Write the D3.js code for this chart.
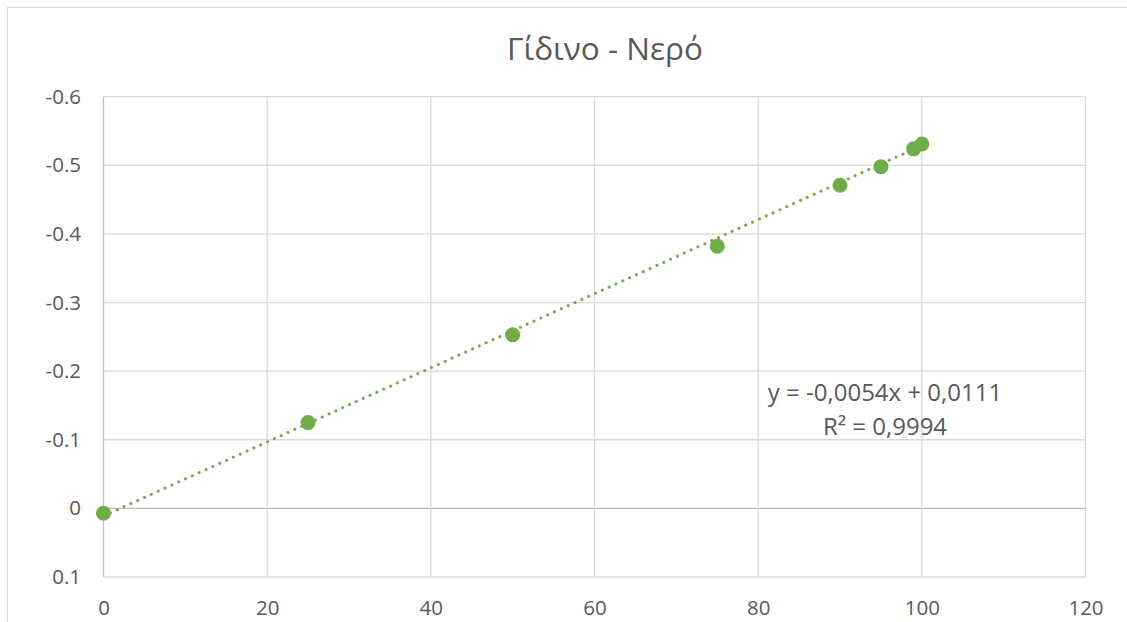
<!DOCTYPE html>
<html>
<head>
<meta charset="utf-8">
<script src="https://cdn.jsdelivr.net/npm/d3@7"></script>
<style>
body { margin: 0; background: #fff; }
text { font-family: "Open Sans", sans-serif; fill: #595959; }
</style>
</head>
<body>
<svg width="1127" height="622"></svg>
<script>
/*
Data
*/
const xValues = [0, 25, 50, 75, 90, 95, 99, 100];
const yValues = [0.007, -0.125, -0.253, -0.382, -0.471, -0.498, -0.524, -0.531];
const xTicks = [0, 20, 40, 60, 80, 100, 120];
const yTicks = [-0.6, -0.5, -0.4, -0.3, -0.2, -0.1, 0, 0.1];
const trendSlope = -0.0054;
const trendIntercept = 0.0111;
const titleText = 'Γίδινο - Νερό';
const equationLines = ['y = -0,0054x + 0,0111', 'R² = 0,9994'];

const pointColor = '#70ad47';
const gridColor = '#d9d9d9';

var svg = d3.select('svg');

var plot = { left: 103.5, right: 1085.5, top: 96.7, bottom: 577 };

var x = d3.scaleLinear().domain([0, 120]).range([plot.left, plot.right]);
var y = d3.scaleLinear().domain([-0.6, 0.1]).range([plot.top, plot.bottom]);

// chart border
svg.append('rect')
	.attr('x', 7.5).attr('y', 7.5)
	.attr('width', 1130).attr('height', 640)
	.attr('fill', 'none').attr('stroke', '#d9d9d9');

// title
svg.append('text')
	.attr('x', 605).attr('y', 60)
	.attr('text-anchor', 'middle')
	.style('font-size', '31.5px')
	.text(titleText);

// gridlines
svg.append('g').selectAll('line')
	.data(yTicks)
	.enter().append('line')
		.attr('x1', plot.left).attr('x2', plot.right)
		.attr('y1', function(d){ return y(d); })
		.attr('y2', function(d){ return y(d); })
		.attr('stroke', function(d){ return d === 0 ? '#bfbfbf' : gridColor; })
		.attr('stroke-width', 1.3);

svg.append('g').selectAll('line')
	.data(xTicks)
	.enter().append('line')
		.attr('y1', plot.top).attr('y2', plot.bottom)
		.attr('x1', function(d){ return x(d); })
		.attr('x2', function(d){ return x(d); })
		.attr('stroke', function(d){ return d === 0 ? '#bfbfbf' : gridColor; })
		.attr('stroke-width', 1.3);

// axes labels (hyphen minus, like the original)
var yAxis = svg.append('g')
	.attr('transform', 'translate(' + 81 + ',0)')
	.call(d3.axisLeft(y).tickValues(yTicks).tickSize(0).tickPadding(0)
		.tickFormat(function(d){ return String(d); }));
yAxis.select('.domain').remove();
yAxis.selectAll('text').style('font-size', '20.5px').attr('fill', '#595959');

var xAxis = svg.append('g')
	.attr('transform', 'translate(0,' + 600 + ')')
	.call(d3.axisBottom(x).tickValues(xTicks).tickSize(0).tickPadding(0));
xAxis.select('.domain').remove();
xAxis.selectAll('text').style('font-size', '20.5px').attr('fill', '#595959');

// trendline
svg.append('line')
	.attr('x1', x(0)).attr('y1', y(trendIntercept))
	.attr('x2', x(100)).attr('y2', y(trendSlope * 100 + trendIntercept))
	.attr('stroke', pointColor)
	.attr('stroke-width', 3)
	.attr('stroke-linecap', 'round')
	.attr('stroke-dasharray', '0.1 7.4');

// points
svg.append('g').selectAll('circle')
	.data(xValues)
	.enter().append('circle')
		.attr('cx', function(d){ return x(d); })
		.attr('cy', function(d, i){ return y(yValues[i]); })
		.attr('r', 7.5)
		.attr('fill', pointColor);

// equation label
svg.append('g').selectAll('text')
	.data(equationLines)
	.enter().append('text')
		.attr('x', 885)
		.attr('y', function(d, i){ return 401 + i * 34; })
		.attr('text-anchor', 'middle')
		.style('font-size', '24px')
		.text(function(d){ return d; });
</script>
</body>
</html>
